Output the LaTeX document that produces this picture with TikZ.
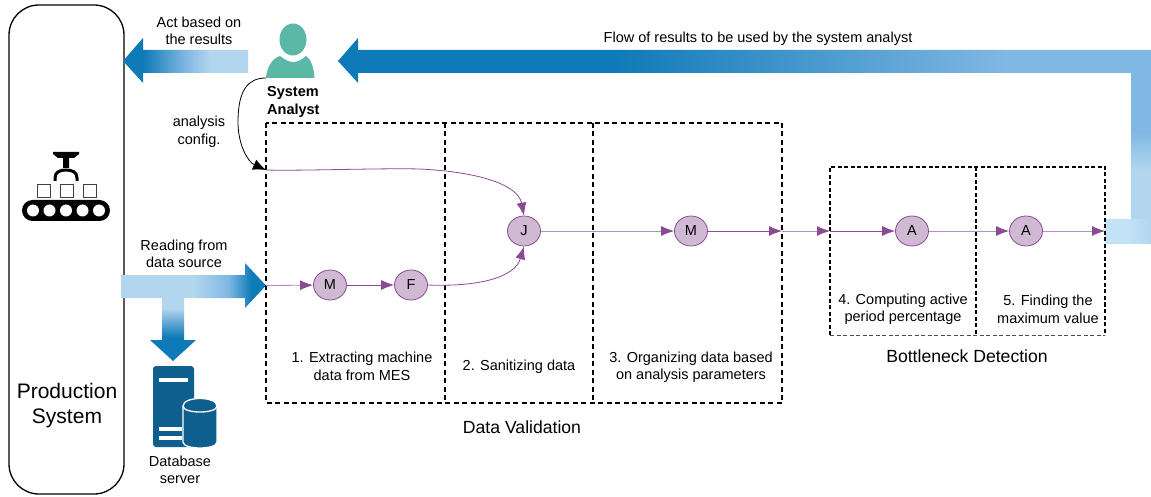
\documentclass[tikz,border=0pt]{standalone}
\usepackage{fontspec}
\setmainfont{Liberation Sans}
\usetikzlibrary{arrows.meta,shapes.geometric}
\definecolor{bdark}{HTML}{0F7AB8}
\definecolor{bmid}{HTML}{80B7E3}
\definecolor{blight}{HTML}{B3D6EF}
\definecolor{bpale}{HTML}{C2E3F6}
\definecolor{purp}{HTML}{8B4A94}
\definecolor{purpl}{HTML}{B48FBF}
\definecolor{nodefill}{HTML}{CFB9D3}
\definecolor{teal}{HTML}{5CB8A6}
\definecolor{dbblue}{HTML}{0E5F8E}
\pgfdeclarehorizontalshading{arrowL}{100bp}{color(0bp)=(bdark);color(25bp)=(bdark);color(33bp)=(bdark);color(50bp)=(bmid);color(60bp)=(blight);color(100bp)=(blight)}
\pgfdeclarehorizontalshading{arrowR}{100bp}{color(0bp)=(blight);color(25bp)=(blight);color(50bp)=(blight);color(62bp)=(bmid);color(70bp)=(bdark);color(100bp)=(bdark)}
\pgfdeclareverticalshading{arrowD}{100bp}{color(0bp)=(bdark);color(25bp)=(bdark);color(42bp)=(bdark);color(62bp)=(blight);color(100bp)=(blight)}
\pgfdeclarehorizontalshading{arrowLong}{100bp}{color(0bp)=(bdark);color(25bp)=(bdark);color(42bp)=(bdark);color(66bp)=(bmid);color(100bp)=(bmid)}
\pgfdeclareverticalshading{arrowV}{100bp}{color(0bp)=(blight);color(25bp)=(blight);color(42bp)=(blight);color(55bp)=(bmid);color(100bp)=(bmid)}
\pgfdeclarehorizontalshading{arrowEnd}{100bp}{color(0bp)=(bpale);color(25bp)=(bpale);color(50bp)=(bpale);color(75bp)=(blight);color(100bp)=(blight)}
\tikzset{
  x=1pt,y=-1pt,
  lbl/.style={align=center,inner sep=0pt,font=\fontsize{14.5}{17.5}\selectfont},
  biglbl/.style={align=center,inner sep=0pt,font=\fontsize{17.6}{25}\selectfont},
  op/.style={ellipse,draw=purp,fill=nodefill,line width=.8pt,minimum width=33pt,minimum height=30pt,inner sep=0pt,font=\fontsize{14.5}{16}\selectfont},
  flow/.style={draw=purp,line width=.8pt,-{Latex[length=13pt,width=10pt,color=purp]}},
  flowl/.style={draw=purpl,line width=.9pt,-{Latex[length=13pt,width=10pt,color=purp]}},
  stagebox/.style={draw=black,line width=1.3pt,dash pattern=on 5pt off 3.5pt},
  stageboxb/.style={draw=black,line width=1.1pt,dash pattern=on 4pt off 2.5pt},
}
\begin{document}
\begin{tikzpicture}
\useasboundingbox (0,0) rectangle (1151,497);
% production system
\draw[line width=1.3pt,rounded corners=30pt] (9,5) rectangle (124,494);
% conveyor icon
\fill[black,rounded corners=10.5pt] (22,200) rectangle (110,221);
\foreach \cx in {33,49.5,66,82.5,99}{\fill[white] (\cx,210.5) circle (6);}
\foreach \bx in {37,60,83}{\draw[line width=1pt,draw=black!75] (\bx,184.5) rectangle +(13,13);}
\fill[black] (53,152) -- (79,152) -- (79,154) -- (74,158) -- (69,158) -- (69,168) -- (63,168) -- (63,158) -- (58,158) -- (53,154) -- cycle;
\draw[line width=3pt] (55,181) -- (55,178) .. controls (55,172) and (60,170) .. (66,170) .. controls (72,170) and (77,172) .. (77,178) -- (77,181);
% analyst icon
\fill[teal] (293,39.5) ellipse [x radius=13.5,y radius=16];
\fill[teal] (266,78) .. controls (267,68) and (271,59) .. (280,56) .. controls (285,60) and (289,62) .. (293,62) .. controls (297,62) and (302,60) .. (306,56) .. controls (311,59) and (314,68) .. (314.5,78) -- cycle;
% database icon
\fill[dbblue,rounded corners=3pt] (153,447) -- (153,366) -- (194,366) -- (194,447) -- cycle;
\fill[white] (159,378) rectangle (188,382);
\fill[white] (159,427) rectangle (182,431);
\fill[white] (159,436) rectangle (182,440);
\fill[dbblue,draw=white,line width=1.3pt] (183,406) -- (183,442) .. controls (183,450) and (217,450) .. (217,442) -- (217,406) .. controls (217,396) and (183,396) .. (183,406) -- cycle;
\draw[white,line width=1.3pt] (183,406) .. controls (183,414) and (217,414) .. (217,406);
% block arrows
\path[shade,shading=arrowL] (123,61) -- (143,38) -- (143,50) -- (248,50) -- (248,73) -- (143,73) -- (143,83) -- cycle;
\path[shade,shading=arrowD] (162,290) -- (184,290) -- (184,340) -- (196,340) -- (173,361) -- (150,340) -- (162,340) -- cycle;
\path[shade,shading=arrowR] (121,275) -- (245,275) -- (245,263) -- (266,285.5) -- (245,308) -- (245,298) -- (121,298) -- cycle;
\path[shade,shading=arrowV] (1131,72) -- (1151,72) -- (1151,221) -- (1131,221) -- cycle;
\path[shade,shading=arrowEnd] (1105,220) -- (1151,220) -- (1151,243) -- (1105,243) -- cycle;
\path[shade,shading=arrowLong] (338,61) -- (358,38) -- (358,50) -- (1151,50) -- (1151,73) -- (358,73) -- (358,83) -- cycle;
% stage boxes
\draw[stagebox] (266,123) rectangle (782,403);
\draw[stagebox] (445,123) -- (445,403);
\draw[stagebox] (593,123) -- (593,403);
\draw[stageboxb] (830,335) -- (830,167) -- (1105,167) -- (1105,335);
\draw[black!70,line width=.8pt,dash pattern=on 4pt off 2.5pt] (830,335) -- (1105,335);
\draw[stageboxb] (976,167) -- (976,335);
% named anchors
\coordinate (cfgStart) at (266,78);
\coordinate (cfgEnd) at (266,170);
\coordinate (srcIn) at (266,285.5);
\coordinate (v3out) at (782,231);
\coordinate (b4in) at (830,231);
\coordinate (b5out) at (1105,231);
% operators
\node[op] (m1) at (330,285) {M};
\node[op] (f1) at (411,285) {F};
\node[op] (j1) at (524,231) {J};
\node[op] (m2) at (691,231) {M};
\node[op] (a1) at (912,231) {A};
\node[op] (a2) at (1026,231) {A};
% connectors
\draw[flowl] (srcIn) -- (m1);
\draw[flow] (m1) -- (f1);
\draw[flow] (f1.east) .. controls (480,287) and (515,277) .. (j1.south);
\draw[flow] (cfgEnd) .. controls (300,171) and (380,168) .. (420,169) .. controls (480,172) and (518,185) .. (j1.north);
\draw[flowl] (j1) -- (m2);
\draw[flow] (m2) -- (v3out);
\draw[flowl] (v3out) -- (b4in);
\draw[flow] (b4in) -- (a1);
\draw[flowl] (a1) -- (a2);
\draw[flowl] (a2) -- (b5out);
\draw[black,line width=.8pt,-{Latex[length=13pt,width=11pt]}] (cfgStart) .. controls (248,78) and (238,90) .. (238,122) .. controls (238,145) and (248,162) .. (cfgEnd);
% labels
\node[lbl] (t1) at (199,31) {Act based on\\the results};
\node[lbl,font=\fontsize{14.5}{17.5}\selectfont\bfseries,align=left,anchor=west] (t2) at (267,102) {System\\Analyst};
\node[lbl] (t3) at (199,132) {analysis\\config.};
\node[lbl] (t4) at (184,254) {Reading from\\data source};
\node[lbl,font=\fontsize{21}{25}\selectfont] (t5) at (67,405.5) {Production\\System};
\node[lbl] (t6) at (180,470) {Database\\server};
\node[lbl] (t7) at (362,366.5) {1. Extracting machine\\data from MES};
\node[lbl] (t8) at (519,367) {2. Sanitizing data};
\node[lbl] (t9) at (691,367) {3. Organizing data based\\on analysis parameters};
\node[biglbl] (t10) at (522,427) {Data Validation};
\node[lbl] (t11) at (903,309.5) {4. Computing active\\period percentage};
\node[lbl] (t12) at (1048,309.5) {5. Finding the\\maximum value};
\node[biglbl] (t13) at (967,356) {Bottleneck Detection};
\node[lbl] (t14) at (758,38.5) {Flow of results to be used by the system analyst};
\end{tikzpicture}
\end{document}
